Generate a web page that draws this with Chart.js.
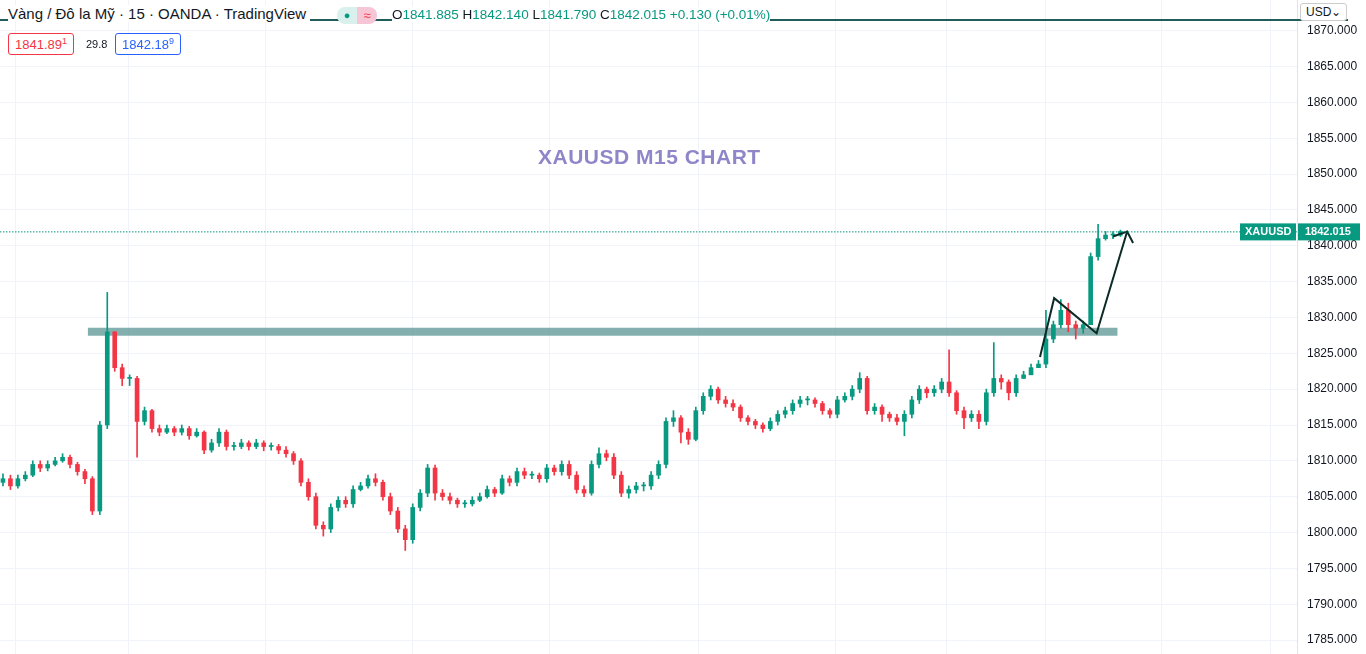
<!DOCTYPE html>
<html>
<head>
<meta charset="utf-8">
<script src="https://cdn.jsdelivr.net/npm/chart.js@4.4.0/dist/chart.umd.min.js"></script>
<style>
  body { margin:0; background:#fff; font-family:"Liberation Sans", Arial, sans-serif; }
  #wrap { position:relative; width:1366px; height:654px; }
  .hdr { position:absolute; font-size:15px; color:#131722; white-space:nowrap; }
  .box { position:absolute; font-size:13px; border:1px solid; border-radius:3px; padding:2px 6px; background:#fff; }
  #title { position:absolute; left:538px; top:145px; font-size:21px; font-weight:bold; color:#8f86c9; letter-spacing:0.5px; }
</style>
</head>
<body>
<div id="wrap">
  <canvas id="chart" width="1366" height="654"></canvas>
  <div class="hdr" style="left:8px;top:5px;background:#fff;padding-right:4px">Vàng / Đô la Mỹ · 15 · OANDA · TradingView</div>
  <div class="hdr" style="left:337px;top:7px;width:20px;height:17px;background:#d9f0ec;border-radius:8px 0 0 8px;color:#089981;text-align:center;font-size:11px;line-height:17px">●</div>
  <div class="hdr" style="left:357px;top:7px;width:20px;height:17px;background:#f7c6d6;border-radius:0 8px 8px 0;color:#f23645;text-align:center;font-size:13px;line-height:17px">≈</div>
  <div class="hdr" style="left:392px;top:7px;font-size:13.5px;background:#fff">O<span style="color:#089981">1841.885</span> H<span style="color:#089981">1842.140</span> L<span style="color:#089981">1841.790</span> C<span style="color:#089981">1842.015</span> <span style="color:#089981">+0.130 (+0.01%)</span></div>
  <div class="box" style="left:8px;top:33px;color:#f23645;border-color:#f23645">1841.89<sup style="font-size:9px">1</sup></div>
  <div class="hdr" style="left:86px;top:38px;font-size:11px">29.8</div>
  <div class="box" style="left:115px;top:33px;color:#2962ff;border-color:#2962ff">1842.18<sup style="font-size:9px">9</sup></div>
  <div class="hdr" style="left:1300px;top:3px;font-size:12px;border:1px solid #ccc;border-radius:3px;padding:1px 5px;background:#fff">USD⌄</div>
  <div id="title">XAUUSD M15 CHART</div>
</div>
<script>
// price data, 15 min candles
var closes = [1807.5,1806.5,1807.5,1808,1809.5,1809,1809.5,1810,1810.5,1809.5,
1808.5,1807.5,1803,1815,1828,1823,1821.5,1821.5,1815.5,1817,
1814.5,1814,1814.5,1814,1814.5,1813.5,1814,1811.5,1812.5,1814,
1812,1812,1812.5,1812,1812.5,1812,1812,1811.5,1811,1810,
1807,1805,1801,1800.5,1803.5,1804.5,1804,1806,1806.5,1807.5,
1807,1805,1803,1800.5,1799,1803.5,1805.5,1809,1805.5,1805,
1804.5,1804,1804,1804.5,1805,1806,1805.5,1807.5,1807,1808.5,
1808,1808,1807.5,1809,1808.5,1809.5,1808,1806,1805.5,1809.5,
1811,1810.5,1808,1805.5,1806,1806.5,1806.5,1808,1809.5,1815.5,
1816,1814,1813,1817,1819,1820,1818.5,1818,1817.5,1816,
1815.5,1815,1814.5,1815.5,1816.5,1817,1818,1818.5,1818.5,1818,
1817,1816.5,1818.5,1819,1820,1821.5,1817,1817.5,1816.5,1816,
1815.5,1816.5,1818.5,1820,1819.5,1820,1821,1819.5,1817,1816,
1816.5,1815.5,1819.5,1821.5,1821,1819.5,1821.5,1822,1823,1823.5,
1827,1829,1831,1829,1828.5,1829,1838.5,1841,1841.5,1841.5,1842];
var highs = [1808.2,1808,1808,1808.5,1810,1810,1810,1810.5,1811,1810.8,
1809.8,1808.8,1807.8,1815.5,1833.5,1828,1823.5,1822,1821.8,1817.5,
1817.2,1815,1815,1814.8,1815,1814.8,1814.5,1814.2,1813,1814.5,
1814.3,1812.6,1813,1812.8,1813,1812.8,1812.5,1812.3,1812,1811.3,
1810.3,1807.5,1805.5,1801.5,1804,1805,1805,1806.5,1807,1808,
1808.2,1807.3,1805.5,1803.5,1801,1804,1806,1809.5,1809.4,1806,
1805.5,1804.8,1804.5,1805,1805.5,1806.5,1806.3,1808,1807.9,1809,
1809,1808.5,1808.3,1809.5,1809.4,1810,1810,1808.5,1806.5,1810,
1811.8,1811.5,1811,1808.5,1806.5,1807,1807,1808.5,1810,1816,
1817,1816.3,1814.5,1817.5,1819.5,1820.5,1820.3,1819,1818.5,1817.8,
1816.3,1815.8,1815.3,1816,1817,1817.5,1818.5,1819,1819,1818.8,
1818.3,1817.3,1819,1819.5,1820.5,1822.3,1821.8,1818,1817.8,1816.8,
1816.5,1817,1819,1820.5,1820.3,1820.5,1821.5,1825.5,1819.8,1817.5,
1817,1817,1820,1826.5,1822,1821.3,1822,1822.5,1823.5,1824,
1831,1829.5,1832.5,1832,1829.5,1829.5,1839,1843,1842,1842,1842.2];
var lows = [1806.5,1806,1806.2,1807.2,1807.8,1808.5,1808.6,1809.3,1809.8,1809,
1808,1806.8,1802.5,1802.5,1814.5,1822.5,1820.5,1820.5,1810.5,1815,
1814,1813.5,1813.8,1813.5,1813.6,1813,1813.3,1811,1811.2,1812,
1811.5,1811.5,1811.7,1811.5,1811.7,1811.4,1811.5,1811,1810.5,1809.5,
1806.5,1804.5,1800.5,1799.5,1800,1803,1803.5,1803.5,1805.8,1806.2,
1806.5,1804.5,1802.5,1800,1797.5,1798.5,1803,1805,1804.5,1804.5,
1804,1803.5,1803.5,1803.7,1804.3,1804.8,1805,1805.3,1806.5,1806.5,
1807.5,1807.5,1807,1807,1808,1808,1807.5,1805.5,1805,1805.2,
1809,1810,1807.5,1805,1804.8,1805.5,1805.8,1806,1807.5,1809,
1814.8,1812.5,1812.3,1812.8,1816.5,1818.5,1818,1817.5,1817,1815.5,
1815,1814.5,1814,1814.2,1815,1816,1816.5,1817.5,1817.8,1817.5,
1816.5,1816,1816,1818.2,1818.5,1819.5,1816.5,1816.5,1815.5,1815.5,
1815,1813.5,1816,1818,1818.8,1819,1819.5,1819,1816.5,1814.5,
1815.5,1814.5,1815,1819,1820,1818.5,1819,1821.5,1822.5,1823,
1823,1826.5,1828.5,1828,1827,1827.8,1829,1838,1840.8,1841,1841.3];
var firstOpen = 1807;
var lastPrice = 1842.015;

// drawings (x = candle index)
var zoneLevel = [{x:11.4, y:1828}, {x:149.6, y:1828}];
var arrowPath = [{x:139.2, y:1824.5}, {x:141.1, y:1832.7}, {x:146.8, y:1827.8}, {x:150.9, y:1842}];
var arrowHead = [{x:149.0, y:1841.3}, {x:150.9, y:1842}, {x:151.7, y:1840.4}];
var dayLines = [1.7, 16.8, 35.2, 55.0, 73.3, 93.3, 111.7, 126.7, 139.9, 155.5, 170.2];

var UP = '#089981', DOWN = '#f23645';
var opens = closes.map(function(c, i){ return i == 0 ? firstOpen : closes[i-1]; });
var colors = closes.map(function(c, i){ return c >= opens[i] ? UP : DOWN; });
var wicks = closes.map(function(c, i){ return {x:i, y:[lows[i], highs[i]]}; });
var bodies = closes.map(function(c, i){
  var a = opens[i], b = c;
  if (Math.abs(a-b) < 0.15) b = a + 0.15; // doji still visible
  return {x:i, y:[a, b]};
});

var priceLine = {
  id: 'priceLine',
  afterDatasetsDraw: function(chart){
    var ctx = chart.ctx, y = chart.scales.y.getPixelForValue(lastPrice);
    ctx.save();
    ctx.strokeStyle = UP; ctx.lineWidth = 1; ctx.setLineDash([1.5, 1.5]);
    ctx.beginPath(); ctx.moveTo(0, y+0.5); ctx.lineTo(chart.chartArea.right, y+0.5); ctx.stroke();
    ctx.setLineDash([]);
    // top drawing line
    ctx.strokeStyle = '#1f5c5a'; ctx.lineWidth = 2;
    ctx.beginPath(); ctx.moveTo(0, 20); ctx.lineTo(1348, 20); ctx.stroke();
    ctx.fillStyle = UP;
    ctx.fillRect(1240, y-8, 56, 17);
    ctx.fillRect(1298, y-8, 62, 17);
    ctx.fillStyle = '#fff'; ctx.font = 'bold 11px "Liberation Sans", Arial'; ctx.textBaseline = 'middle';
    ctx.fillText('XAUUSD', 1245, y+1);
    ctx.fillText('1842.015', 1305, y+1);
    ctx.restore();
  }
};

new Chart(document.getElementById('chart'), {
  data: {
    datasets: [
      { type:'line', data:zoneLevel, borderColor:'rgba(90,150,148,0.75)', borderWidth:8, pointRadius:0, borderCapStyle:'butt', order:3 },
      { type:'bar', data:wicks, backgroundColor:colors, barThickness:1, grouped:false, order:2 },
      { type:'bar', data:bodies, backgroundColor:colors, barThickness:4, grouped:false, order:1 },
      { type:'line', data:arrowPath, borderColor:'#0d2b26', borderWidth:2, pointRadius:0, tension:0, order:0 },
      { type:'line', data:arrowHead, borderColor:'#0d2b26', borderWidth:2, pointRadius:0, tension:0, order:0 }
    ]
  },
  options: {
    responsive:false, animation:false,
    layout:{ padding:0 },
    plugins:{ legend:{display:false}, tooltip:{enabled:false} },
    scales:{
      x:{ type:'linear', min:-0.4, max:173.7, offset:false,
          afterBuildTicks:function(ax){ ax.ticks = dayLines.map(function(v){ return {value:v}; }); },
          afterFit:function(ax){ ax.height = 0; },
          ticks:{ display:false }, grid:{ color:'#f0f3fa', drawTicks:false, offset:false }, border:{display:false} },
      y:{ position:'right', min:1783.05, max:1874.3,
          afterBuildTicks:function(ax){ var t=[]; for (var v=1785; v<=1870; v+=5) t.push({value:v}); ax.ticks=t; },
          afterFit:function(ax){ ax.width = 69; ax.paddingTop = 0; ax.paddingBottom = 0; },
          ticks:{ color:'#131722', font:{size:12, family:'"Liberation Sans", Arial'}, padding:10,
                  callback:function(v){ return v.toFixed(3); } },
          grid:{ color:'#f0f3fa', drawTicks:false }, border:{ color:'#e0e3eb' } }
    }
  },
  plugins:[priceLine]
});
</script>
</body>
</html>
